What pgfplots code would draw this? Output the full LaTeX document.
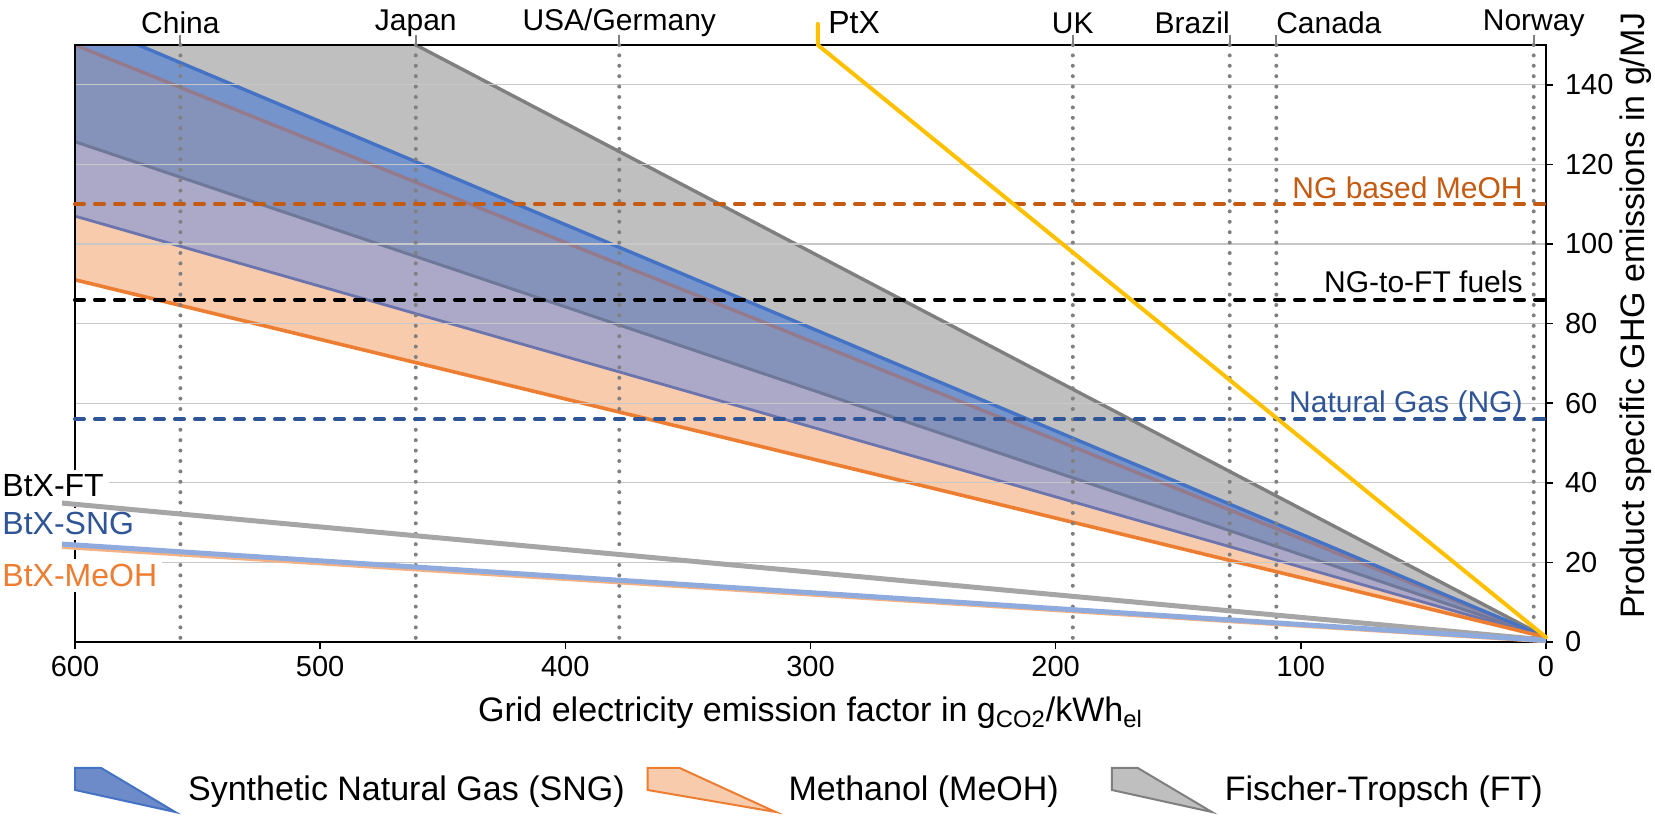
\documentclass[border=0pt]{standalone}
\usepackage{pgfplots}
\pgfplotsset{compat=1.18}
\usepackage{fontspec}
\setmainfont{Liberation Sans}
\definecolor{ftfill}{HTML}{BFBFBF}
\definecolor{ftline}{HTML}{7F7F7F}
\definecolor{sngline}{HTML}{4472C4}
\definecolor{snglegfill}{HTML}{6E8BC9}
\definecolor{meohline}{HTML}{ED7D31}
\definecolor{meohfill}{HTML}{F8CBAD}
\definecolor{rA}{HTML}{7594CC}
\definecolor{rB}{HTML}{8592BA}
\definecolor{rC}{HTML}{ABA9C7}
\definecolor{meohupper}{HTML}{957A8C}
\definecolor{ftlower}{HTML}{6F7898}
\definecolor{snglower}{HTML}{6C74AE}
\definecolor{ptx}{HTML}{FFC000}
\definecolor{ngmeoh}{HTML}{C55A11}
\definecolor{ngblue}{HTML}{2F5597}
\definecolor{btxgray}{HTML}{A6A6A6}
\definecolor{btxblue}{HTML}{8FAADC}
\definecolor{btxorange}{HTML}{F4B183}
\definecolor{dotgray}{HTML}{808080}
\definecolor{gridgray}{HTML}{C8C8C8}
\newcommand{\fs}[1]{\fontsize{#1}{#1}\selectfont}
\pgfplotsset{
  wedge legend/.style={legend image code/.code={\draw[##1, line width=1pt] (0pt,11pt) -- (13pt,11pt) -- (50pt,-11pt) -- (0pt,0pt) -- cycle;}},
  wide wedge legend/.style={legend image code/.code={\draw[##1, line width=1pt] (0pt,11pt) -- (16pt,11pt) -- (64pt,-11pt) -- (0pt,0pt) -- cycle;}},
}
\begin{document}
\begin{tikzpicture}
\useasboundingbox (-37.5pt,-87.5pt) rectangle (790pt,321pt);
\begin{axis}[
  at={(0,0)}, anchor=south west,
  scale only axis, width=735.5pt, height=298.5pt,
  xmin=0, xmax=600, ymin=0, ymax=150, x dir=reverse,
  axis on top,
  xtick={0,100,...,600}, ytick={0,20,...,140},
  xtick pos=left, ytick pos=right,
  tick align=outside, major tick length=3.5pt,
  tick style={black, line width=0.8pt},
  axis line style={black, line width=1.1pt},
  ymajorgrids, y grid style={gridgray, line width=0.6pt},
  ticklabel style={font=\fs{14.5}},
  yticklabel style={xshift=2.5pt},
  /pgf/number format/assume math mode=true,
  xlabel={Grid electricity emission factor in g\textsubscript{CO2}/kWh\textsubscript{el}},
  ylabel={Product specific GHG emissions in g/MJ},
  every axis x label/.style={at={(axis description cs:0.5,0)}, anchor=base, yshift=-40pt, font=\fs{17}},
  every axis y label/.style={at={([xshift=49.5pt]axis description cs:1,0.547)}, rotate=90, anchor=base, font=\fs{17}},
  legend style={at={([yshift=-74pt]axis description cs:0.5,0)}, anchor=center, draw=none, fill=none, font=\fs{17}, legend columns=3,
    /tikz/every odd column/.append style={column sep=4pt},
    /tikz/column 2/.style={column sep=9pt},
    /tikz/column 4/.style={column sep=24pt}},
  legend cell align=left,
]
% band regions (between consecutive lines, all meeting near the origin)
\addplot[forget plot, draw=none, fill=ftfill] coordinates {(600,194.9) (0,1.2) (600,156.7)};
\addplot[forget plot, draw=none, fill=rA] coordinates {(600,156.7) (0,1.2) (600,150)};
\addplot[forget plot, draw=none, fill=rB] coordinates {(600,150) (0,1.2) (600,125.7)};
\addplot[forget plot, draw=none, fill=rC] coordinates {(600,125.7) (0,1.2) (600,107)};
\addplot[forget plot, draw=none, fill=meohfill] coordinates {(600,107) (0,1.2) (600,91)};
% band border lines
\addplot[forget plot, ftlower, line width=1.5pt] coordinates {(600,125.7) (0,1.2)};
\addplot[forget plot, meohupper, line width=1.7pt] coordinates {(600,150) (0,1.2)};
\addplot[forget plot, snglower, line width=1.4pt] coordinates {(600,107) (0,1.2)};
\addplot[forget plot, ftline, line width=1.7pt] coordinates {(600,194.9) (0,1.2)};
\addplot[forget plot, sngline, line width=1.7pt] coordinates {(600,156.7) (0,1.2)};
\addplot[forget plot, meohline, line width=1.8pt] coordinates {(600,91) (0,1.2)};
% legend
\addlegendimage{wedge legend, fill=snglegfill, draw=sngline}
\addlegendentry{Synthetic Natural Gas (SNG)}
\addlegendimage{wide wedge legend, fill=meohfill, draw=meohline}
\addlegendentry{Methanol (MeOH)}
\addlegendimage{wedge legend, fill=ftfill, draw=ftline}
\addlegendentry{Fischer-Tropsch (FT)}
\end{axis}
\begin{axis}[
  at={(0,0)}, anchor=south west,
  scale only axis, width=735.5pt, height=298.5pt,
  xmin=0, xmax=600, ymin=0, ymax=150, x dir=reverse,
  clip=false,
  axis line style={draw=none},
  ytick=\empty,
  xtick={557,461,378,193,129,110,5},
  xticklabels={China,Japan,USA/Germany,UK,\makebox[0pt][r]{Brazil},\makebox[0pt][l]{Canada},Norway},
  xtick pos=right, xticklabel pos=right,
  tick align=outside, major tick length=5pt,
  xtick style={dotgray, line width=1pt},
  xticklabel style={font=\fs{15}, anchor=center, yshift=6pt},
]
% country dotted lines
\addplot[dotgray, line width=2pt, line cap=round, dash pattern=on 0pt off 5.2pt] coordinates {(557,150) (557,0)};
\addplot[dotgray, line width=2pt, line cap=round, dash pattern=on 0pt off 5.2pt] coordinates {(461,150) (461,0)};
\addplot[dotgray, line width=2pt, line cap=round, dash pattern=on 0pt off 5.2pt] coordinates {(378,150) (378,0)};
\addplot[dotgray, line width=2pt, line cap=round, dash pattern=on 0pt off 5.2pt] coordinates {(193,150) (193,0)};
\addplot[dotgray, line width=2pt, line cap=round, dash pattern=on 0pt off 5.2pt] coordinates {(129,150) (129,0)};
\addplot[dotgray, line width=2pt, line cap=round, dash pattern=on 0pt off 5.2pt] coordinates {(110,150) (110,0)};
\addplot[dotgray, line width=2pt, line cap=round, dash pattern=on 0pt off 5.2pt] coordinates {(5,150) (5,0)};
% BtX labels
\node[anchor=base west, fill=white, inner sep=2.5pt, font=\fs{16}] at (axis cs:631.8,36.5) {BtX-FT};
\node[anchor=base west, fill=white, inner sep=2.5pt, font=\fs{16}, text=ngblue] at (axis cs:631.8,26.9) {BtX-SNG};
\node[anchor=base west, fill=white, inner sep=2.5pt, font=\fs{16}, text=meohline] at (axis cs:631.8,13.9) {BtX-MeOH};
% BtX lines
\addplot[btxgray, line width=2.5pt] coordinates {(605.3,34.9) (0,0.5)};
\addplot[btxorange, line width=2.5pt] coordinates {(605.3,24.0) (0,0.3)};
\addplot[btxblue, line width=2.5pt] coordinates {(605.3,24.6) (0,0.4)};
% reference dashed lines
\addplot[ngmeoh, line width=2pt, line cap=round, dash pattern=on 4.5pt off 5.5pt] coordinates {(600,110) (0,110)};
\addplot[black, line width=2pt, line cap=round, dash pattern=on 4.5pt off 5.5pt] coordinates {(600,86) (0,86)};
\addplot[ngblue, line width=2pt, line cap=round, dash pattern=on 4.5pt off 5.5pt] coordinates {(600,56) (0,56)};
% PtX
\addplot[ptx, line width=2pt, line cap=round, line join=round] coordinates {(297,155.3) (297,150) (0,1.2)};
\node[anchor=base west, inner sep=0pt, font=\fs{16}] at (axis cs:292.9,153) {PtX};
% labels of reference lines
\node[anchor=base east, inner sep=0pt, text=ngmeoh, font=\fs{15}] at (axis cs:9.4,111.5) {NG based MeOH};
\node[anchor=base east, inner sep=0pt, font=\fs{15}] at (axis cs:9.4,87.7) {NG-to-FT fuels};
\node[anchor=base east, inner sep=0pt, text=ngblue, font=\fs{15}] at (axis cs:9.4,57.7) {Natural Gas (NG)};
\end{axis}
\end{tikzpicture}
\end{document}
